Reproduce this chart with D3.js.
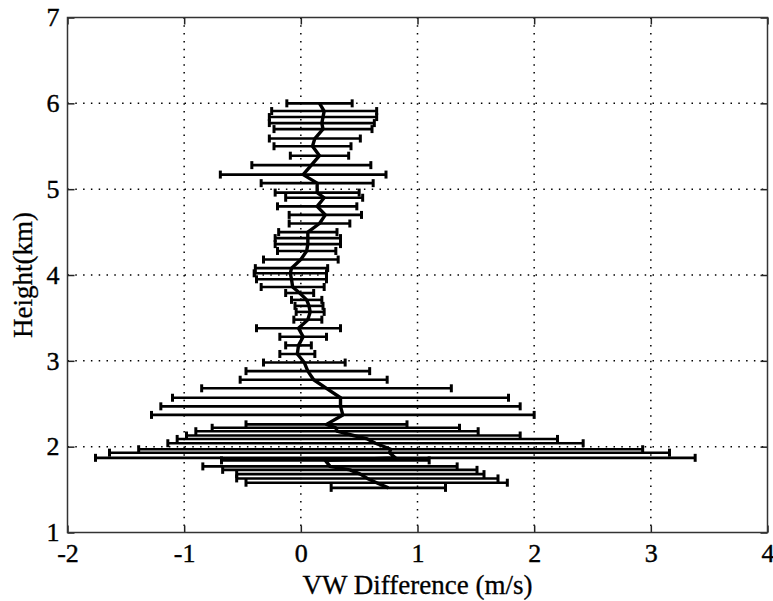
<!DOCTYPE html>
<html>
<head>
<meta charset="utf-8">
<script src="https://cdn.jsdelivr.net/npm/d3@7"></script>
<style>
  body { margin: 0; background: #fff; }
  svg text { font-family: "Liberation Serif", "Times New Roman", Times, "DejaVu Serif"; fill: #000; }
</style>
</head>
<body>
<div id="chart"></div>
<script>
// heights (km) of each error bar, top to bottom
const heights = [6.00, 5.91, 5.84, 5.77, 5.70, 5.59, 5.50, 5.39, 5.28, 5.17,
  5.07, 4.96, 4.90, 4.80, 4.70, 4.60, 4.50, 4.43, 4.36, 4.28,
  4.18, 4.08, 4.02, 3.95, 3.86, 3.79, 3.71, 3.64, 3.57, 3.48,
  3.38, 3.28, 3.18, 3.08, 2.98, 2.88, 2.78, 2.68, 2.57, 2.47,
  2.37, 2.26, 2.22, 2.18, 2.13, 2.09, 2.04, 1.97, 1.93, 1.87,
  1.84, 1.77, 1.73, 1.68, 1.63, 1.58, 1.52]

// mean VW difference (m/s)
const meanDiff = [0.16, 0.20, 0.19, 0.18, 0.19, 0.12, 0.10, 0.16, 0.09, 0.02,
  0.14, 0.14, 0.20, 0.14, 0.21, 0.16, 0.06, 0.06, 0.06, 0.05,
  0.00, -0.08, -0.09, -0.08, -0.07, -0.01, 0.05, 0.07, 0.08, 0.06,
  -0.02, 0.02, -0.02, -0.03, 0.03, 0.06, 0.11, 0.22, 0.34, 0.34,
  0.36, 0.22, 0.30, 0.31, 0.45, 0.57, 0.64, 0.77, 0.76, 0.81,
  0.21, 0.25, 0.42, 0.51, 0.57, 0.65, 0.75]

// half width of each error bar (m/s)
const errDiff = [0.28, 0.45, 0.46, 0.45, 0.42, 0.39, 0.33, 0.25, 0.51, 0.71,
  0.48, 0.36, 0.33, 0.34, 0.31, 0.26, 0.25, 0.28, 0.28, 0.25,
  0.32, 0.31, 0.31, 0.30, 0.27, 0.12, 0.13, 0.12, 0.12, 0.12,
  0.36, 0.20, 0.11, 0.15, 0.35, 0.53, 0.63, 1.07, 1.44, 1.54,
  1.64, 0.69, 1.06, 1.21, 1.43, 1.63, 1.78, 2.16, 2.40, 2.57,
  0.89, 1.09, 1.09, 1.06, 1.12, 1.12, 0.49]

const xTicks = [-2, -1, 0, 1, 2, 3, 4]
const yTicks = [1, 2, 3, 4, 5, 6, 7]

const data = heights.map((h, i) => ({ h: h, m: meanDiff[i], e: errDiff[i] }))

// plot box
const width = 773, height = 601
const box = { left: 67.5, right: 767.5, top: 17.5, bottom: 532.5 }
const serif = '"Liberation Serif", "Times New Roman", Times, "DejaVu Serif"'

const svg = d3.select("#chart")
  .append("svg")
  .attr("width", width)
  .attr("height", height)

const x = d3.scaleLinear().domain([-2, 4]).range([box.left, box.right])
const y = d3.scaleLinear().domain([1, 7]).range([box.bottom, box.top])

// dotted grid
const grid = svg.append("g")
  .attr("stroke", "#000")
  .attr("stroke-width", 1.5)
  .attr("stroke-dasharray", "1.5,6.3")
grid.selectAll("line.gx")
  .data(xTicks.slice(1, -1))
  .join("line")
  .attr("x1", d => x(d)).attr("x2", d => x(d))
  .attr("y1", box.top).attr("y2", box.bottom)
grid.selectAll("line.gy")
  .data(yTicks.slice(1, -1))
  .join("line")
  .attr("x1", box.left).attr("x2", box.right)
  .attr("y1", d => y(d)).attr("y2", d => y(d))

// error bars
const bars = svg.append("g")
  .attr("stroke", "#000")
  .attr("fill", "none")
bars.selectAll("line.bar")
  .data(data)
  .join("line")
  .attr("stroke-width", 2.6)
  .attr("x1", d => x(d.m - d.e))
  .attr("x2", d => x(d.m + d.e))
  .attr("y1", d => y(d.h))
  .attr("y2", d => y(d.h))
bars.selectAll("line.capL")
  .data(data)
  .join("line")
  .attr("stroke-width", 3)
  .attr("x1", d => x(d.m - d.e)).attr("x2", d => x(d.m - d.e))
  .attr("y1", d => y(d.h) - 4).attr("y2", d => y(d.h) + 4)
bars.selectAll("line.capR")
  .data(data)
  .join("line")
  .attr("stroke-width", 3)
  .attr("x1", d => x(d.m + d.e)).attr("x2", d => x(d.m + d.e))
  .attr("y1", d => y(d.h) - 4).attr("y2", d => y(d.h) + 4)

// mean profile
svg.append("path")
  .datum(data)
  .attr("fill", "none")
  .attr("stroke", "#000")
  .attr("stroke-width", 3.4)
  .attr("stroke-linejoin", "round")
  .attr("d", d3.line().x(d => x(d.m)).y(d => y(d.h)))

// axes with inward ticks on all sides
const tickLen = 7
const fmt = d => String(d)
svg.append("g")
  .attr("transform", `translate(0,${box.bottom})`)
  .call(d3.axisBottom(x).tickValues(xTicks).tickSize(-tickLen).tickPadding(11).tickFormat(fmt))
svg.append("g")
  .attr("transform", `translate(0,${box.top})`)
  .call(d3.axisTop(x).tickValues(xTicks).tickSize(-tickLen).tickFormat(""))
svg.append("g")
  .attr("transform", `translate(${box.left},0)`)
  .call(d3.axisLeft(y).tickValues(yTicks).tickSize(-tickLen).tickPadding(8).tickFormat(fmt))
svg.append("g")
  .attr("transform", `translate(${box.right},0)`)
  .call(d3.axisRight(y).tickValues(yTicks).tickSize(-tickLen).tickFormat(""))

svg.selectAll(".domain").remove()
svg.selectAll("g").attr("font-family", null)
svg.selectAll(".tick line").attr("stroke", "#222").attr("stroke-width", 1.5)
svg.selectAll(".tick text")
  .style("font-family", serif)
  .style("font-size", "26px")
  .attr("fill", "#000")
  .attr("stroke", "#000")
  .attr("stroke-width", 0.4)

// box
svg.append("rect")
  .attr("x", box.left).attr("y", box.top)
  .attr("width", box.right - box.left).attr("height", box.bottom - box.top)
  .attr("fill", "none")
  .attr("stroke", "#333")
  .attr("stroke-width", 1.5)

// axis titles
svg.append("text")
  .attr("x", (box.left + box.right) / 2)
  .attr("y", 594)
  .attr("text-anchor", "middle")
  .style("font-family", serif)
  .style("font-size", "27px")
  .attr("stroke", "#000")
  .attr("stroke-width", 0.3)
  .text("VW Difference (m/s)")

svg.append("text")
  .attr("transform", `translate(32,${(box.top + box.bottom) / 2}) rotate(-90)`)
  .attr("text-anchor", "middle")
  .style("font-family", serif)
  .style("font-size", "27px")
  .attr("stroke", "#000")
  .attr("stroke-width", 0.3)
  .text("Height(km)")
</script>
</body>
</html>
